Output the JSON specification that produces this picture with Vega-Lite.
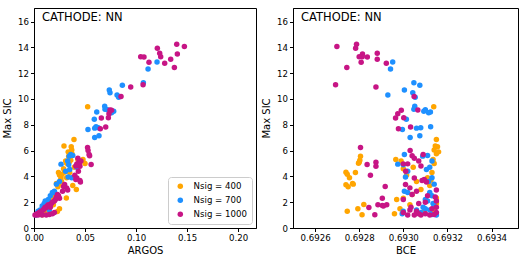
{
"$schema": "https://vega.github.io/schema/vega-lite/v6.json",
"padding": {"left": 2, "top": 7, "right": 0, "bottom": 0},
"background": "white",
"config": {
  "font": "DejaVu Sans",
  "view": {"stroke": "black", "strokeWidth": 1},
  "axis": {"grid": false, "domainColor": "black", "tickColor": "black", "tickSize": 3.5, "labelColor": "black", "titleColor": "black", "labelFontSize": 8.6, "titleFontSize": 10, "titleFontWeight": "normal", "labelPadding": 2, "labelFont": "DejaVu Sans", "titleFont": "DejaVu Sans", "labelFlush": false},
  "axisY": {"titlePadding": 5},
  "axisX": {"titlePadding": 3},
  "title": {"anchor": "start", "frame": "group", "offset": -15, "dx": 8, "fontSize": 11.5, "fontWeight": "normal", "color": "black", "font": "DejaVu Sans", "baseline": "alphabetic"}
},
"datasets": {"pts": [
{"n":400,"a":0.0526,"b":0.693138,"s":9.40},
{"n":400,"a":0.0392,"b":0.693150,"s":6.86},
{"n":400,"a":0.0294,"b":0.693145,"s":6.35},
{"n":400,"a":0.0365,"b":0.693155,"s":6.30},
{"n":400,"a":0.0370,"b":0.693140,"s":6.05},
{"n":400,"a":0.0335,"b":0.693160,"s":5.90},
{"n":400,"a":0.0372,"b":0.693150,"s":5.75},
{"n":400,"a":0.0340,"b":0.692806,"s":5.57},
{"n":400,"a":0.0360,"b":0.692803,"s":5.26},
{"n":400,"a":0.0430,"b":0.693135,"s":5.30},
{"n":400,"a":0.0320,"b":0.692797,"s":5.02},
{"n":400,"a":0.0345,"b":0.692800,"s":5.10},
{"n":400,"a":0.0500,"b":0.693140,"s":5.00},
{"n":400,"a":0.0480,"b":0.692966,"s":5.31},
{"n":400,"a":0.0300,"b":0.692740,"s":4.33},
{"n":400,"a":0.0275,"b":0.692746,"s":4.17},
{"n":400,"a":0.0240,"b":0.692783,"s":4.31},
{"n":400,"a":0.0290,"b":0.693000,"s":4.60},
{"n":400,"a":0.0265,"b":0.692756,"s":3.90},
{"n":400,"a":0.0250,"b":0.693015,"s":4.10},
{"n":400,"a":0.0230,"b":0.692740,"s":3.35},
{"n":400,"a":0.0235,"b":0.692750,"s":3.20},
{"n":400,"a":0.0220,"b":0.692770,"s":3.45},
{"n":400,"a":0.0245,"b":0.692773,"s":3.40},
{"n":400,"a":0.0415,"b":0.693080,"s":2.98},
{"n":400,"a":0.0380,"b":0.693120,"s":3.30},
{"n":400,"a":0.0320,"b":0.693110,"s":3.90},
{"n":400,"a":0.0270,"b":0.693060,"s":3.60},
{"n":400,"a":0.0180,"b":0.693000,"s":2.30},
{"n":400,"a":0.0200,"b":0.692970,"s":2.20},
{"n":400,"a":0.0150,"b":0.692821,"s":1.83},
{"n":400,"a":0.0210,"b":0.693040,"s":2.60},
{"n":400,"a":0.0250,"b":0.692985,"s":1.50},
{"n":400,"a":0.0120,"b":0.692794,"s":1.50},
{"n":400,"a":0.0100,"b":0.692746,"s":1.30},
{"n":400,"a":0.0080,"b":0.692813,"s":1.03},
{"n":400,"a":0.0060,"b":0.692960,"s":1.10},
{"n":400,"a":0.0140,"b":0.693140,"s":1.40},
{"n":400,"a":0.0229,"b":0.693095,"s":1.27},
{"n":400,"a":0.0190,"b":0.693030,"s":1.80},
{"n":400,"a":0.0317,"b":0.693150,"s":2.33},
{"n":400,"a":0.0350,"b":0.693130,"s":4.30},
{"n":400,"a":0.0395,"b":0.693045,"s":4.70},
{"n":400,"a":0.0310,"b":0.692990,"s":5.20},
{"n":400,"a":0.0260,"b":0.693125,"s":3.70},
{"n":400,"a":0.0160,"b":0.693150,"s":1.90},
{"n":700,"a":0.1206,"b":0.692952,"s":12.87},
{"n":700,"a":0.1118,"b":0.692942,"s":12.33},
{"n":700,"a":0.1072,"b":0.693048,"s":11.26},
{"n":700,"a":0.0866,"b":0.693075,"s":11.06},
{"n":700,"a":0.0738,"b":0.693005,"s":10.70},
{"n":700,"a":0.0745,"b":0.693043,"s":10.49},
{"n":700,"a":0.0814,"b":0.692930,"s":10.31},
{"n":700,"a":0.0830,"b":0.693054,"s":10.13},
{"n":700,"a":0.0693,"b":0.693052,"s":9.43},
{"n":700,"a":0.0696,"b":0.693048,"s":9.20},
{"n":700,"a":0.0720,"b":0.693100,"s":9.17},
{"n":700,"a":0.0781,"b":0.693093,"s":9.04},
{"n":700,"a":0.0615,"b":0.693123,"s":8.99},
{"n":700,"a":0.0760,"b":0.693115,"s":8.93},
{"n":700,"a":0.0591,"b":0.693014,"s":8.42},
{"n":700,"a":0.0608,"b":0.693124,"s":7.84},
{"n":700,"a":0.0630,"b":0.693079,"s":7.77},
{"n":700,"a":0.0595,"b":0.693060,"s":7.74},
{"n":700,"a":0.0529,"b":0.692996,"s":7.64},
{"n":700,"a":0.0637,"b":0.693075,"s":7.15},
{"n":700,"a":0.0595,"b":0.693031,"s":7.02},
{"n":700,"a":0.0360,"b":0.693005,"s":5.70},
{"n":700,"a":0.0345,"b":0.693088,"s":5.57},
{"n":700,"a":0.0380,"b":0.693110,"s":5.62},
{"n":700,"a":0.0330,"b":0.693130,"s":5.20},
{"n":700,"a":0.0340,"b":0.693000,"s":4.90},
{"n":700,"a":0.0350,"b":0.693105,"s":4.53},
{"n":700,"a":0.0420,"b":0.693120,"s":4.70},
{"n":700,"a":0.0310,"b":0.693020,"s":4.40},
{"n":700,"a":0.0335,"b":0.693010,"s":3.95},
{"n":700,"a":0.0370,"b":0.693130,"s":3.90},
{"n":700,"a":0.0250,"b":0.693115,"s":3.60},
{"n":700,"a":0.0220,"b":0.693140,"s":3.40},
{"n":700,"a":0.0200,"b":0.693005,"s":2.85},
{"n":700,"a":0.0190,"b":0.693020,"s":2.75},
{"n":700,"a":0.0180,"b":0.693120,"s":2.75},
{"n":700,"a":0.0160,"b":0.693130,"s":2.50},
{"n":700,"a":0.0140,"b":0.693100,"s":2.20},
{"n":700,"a":0.0110,"b":0.693110,"s":2.10},
{"n":700,"a":0.0100,"b":0.693135,"s":1.90},
{"n":700,"a":0.0080,"b":0.693140,"s":1.70},
{"n":700,"a":0.0090,"b":0.693100,"s":1.50},
{"n":700,"a":0.0060,"b":0.693120,"s":1.40},
{"n":700,"a":0.0040,"b":0.693000,"s":1.30},
{"n":700,"a":0.0050,"b":0.693080,"s":1.20},
{"n":700,"a":0.0030,"b":0.692995,"s":1.10},
{"n":700,"a":0.0070,"b":0.693130,"s":1.05},
{"n":700,"a":0.0020,"b":0.693150,"s":1.00},
{"n":700,"a":0.0120,"b":0.693090,"s":1.60},
{"n":700,"a":0.0150,"b":0.693060,"s":1.40},
{"n":700,"a":0.0265,"b":0.692975,"s":4.95},
{"n":1000,"a":0.1399,"b":0.692788,"s":14.24},
{"n":1000,"a":0.1474,"b":0.692699,"s":14.06},
{"n":1000,"a":0.1209,"b":0.692784,"s":13.93},
{"n":1000,"a":0.1232,"b":0.692882,"s":13.54},
{"n":1000,"a":0.1405,"b":0.692815,"s":13.49},
{"n":1000,"a":0.1046,"b":0.692814,"s":13.28},
{"n":1000,"a":0.1078,"b":0.692837,"s":13.26},
{"n":1000,"a":0.1242,"b":0.692800,"s":13.28},
{"n":1000,"a":0.1340,"b":0.692882,"s":13.08},
{"n":1000,"a":0.1127,"b":0.692809,"s":12.85},
{"n":1000,"a":0.1281,"b":0.692923,"s":12.77},
{"n":1000,"a":0.1376,"b":0.692744,"s":12.43},
{"n":1000,"a":0.1069,"b":0.692693,"s":11.11},
{"n":1000,"a":0.0948,"b":0.692876,"s":10.93},
{"n":1000,"a":0.0853,"b":0.693049,"s":10.20},
{"n":1000,"a":0.0745,"b":0.693066,"s":9.14},
{"n":1000,"a":0.0760,"b":0.692991,"s":9.12},
{"n":1000,"a":0.0735,"b":0.692975,"s":8.85},
{"n":1000,"a":0.0660,"b":0.692965,"s":8.52},
{"n":1000,"a":0.0729,"b":0.693002,"s":8.54},
{"n":1000,"a":0.0703,"b":0.693033,"s":7.82},
{"n":1000,"a":0.0650,"b":0.692978,"s":7.69},
{"n":1000,"a":0.0525,"b":0.692806,"s":6.24},
{"n":1000,"a":0.0530,"b":0.693031,"s":6.00},
{"n":1000,"a":0.0540,"b":0.693090,"s":5.70},
{"n":1000,"a":0.0545,"b":0.693040,"s":5.60},
{"n":1000,"a":0.0560,"b":0.692836,"s":4.92},
{"n":1000,"a":0.0440,"b":0.692876,"s":5.10},
{"n":1000,"a":0.0450,"b":0.692876,"s":4.79},
{"n":1000,"a":0.0430,"b":0.693050,"s":5.40},
{"n":1000,"a":0.0460,"b":0.693070,"s":5.20},
{"n":1000,"a":0.0420,"b":0.693000,"s":4.97},
{"n":1000,"a":0.0445,"b":0.693020,"s":4.97},
{"n":1000,"a":0.0410,"b":0.693080,"s":4.80},
{"n":1000,"a":0.0435,"b":0.693011,"s":4.40},
{"n":1000,"a":0.0400,"b":0.692851,"s":4.09},
{"n":1000,"a":0.0420,"b":0.693050,"s":3.88},
{"n":1000,"a":0.0450,"b":0.693085,"s":3.68},
{"n":1000,"a":0.0455,"b":0.693105,"s":3.57},
{"n":1000,"a":0.0410,"b":0.693095,"s":3.76},
{"n":1000,"a":0.0290,"b":0.692918,"s":3.22},
{"n":1000,"a":0.0300,"b":0.693010,"s":3.37},
{"n":1000,"a":0.0320,"b":0.693030,"s":3.11},
{"n":1000,"a":0.0330,"b":0.693150,"s":2.95},
{"n":1000,"a":0.0280,"b":0.693060,"s":2.85},
{"n":1000,"a":0.0230,"b":0.693040,"s":2.60},
{"n":1000,"a":0.0250,"b":0.692905,"s":2.30},
{"n":1000,"a":0.0210,"b":0.693000,"s":2.20},
{"n":1000,"a":0.0200,"b":0.693150,"s":2.10},
{"n":1000,"a":0.0180,"b":0.693100,"s":2.00},
{"n":1000,"a":0.0170,"b":0.693070,"s":1.90},
{"n":1000,"a":0.0160,"b":0.692885,"s":1.80},
{"n":1000,"a":0.0150,"b":0.692905,"s":1.75},
{"n":1000,"a":0.0140,"b":0.692925,"s":1.80},
{"n":1000,"a":0.0130,"b":0.692910,"s":1.70},
{"n":1000,"a":0.0120,"b":0.692844,"s":1.58},
{"n":1000,"a":0.0110,"b":0.693150,"s":1.60},
{"n":1000,"a":0.0100,"b":0.693130,"s":1.50},
{"n":1000,"a":0.0090,"b":0.693030,"s":1.40},
{"n":1000,"a":0.0070,"b":0.693060,"s":1.30},
{"n":1000,"a":0.0050,"b":0.693150,"s":1.20},
{"n":1000,"a":0.0030,"b":0.693100,"s":1.10},
{"n":1000,"a":0.0020,"b":0.692871,"s":1.03},
{"n":1000,"a":0.0010,"b":0.693020,"s":1.00},
{"n":1000,"a":0.0040,"b":0.693050,"s":1.00},
{"n":1000,"a":0.0080,"b":0.693080,"s":1.00},
{"n":1000,"a":0.0120,"b":0.693120,"s":1.00},
{"n":1000,"a":0.0150,"b":0.693140,"s":1.05},
{"n":1000,"a":0.0180,"b":0.693070,"s":1.10},
{"n":1000,"a":0.0200,"b":0.693000,"s":1.20},
{"n":1000,"a":0.0220,"b":0.693145,"s":2.40},
{"n":1000,"a":0.0240,"b":0.693110,"s":2.50},
{"n":1000,"a":0.0160,"b":0.693035,"s":1.60}
]},
"spacing": 4,
"resolve": {"legend": {"color": "independent"}},
"hconcat": [
{
  "width": 222, "height": 220,
  "title": {"text": "CATHODE: NN"},
  "data": {"name": "pts"},
  "mark": {"type": "circle", "size": 30, "opacity": 1},
  "encoding": {
    "x": {"field": "a", "type": "quantitative", "title": "ARGOS", "scale": {"domain": [0, 0.2176], "nice": false, "zero": false}, "axis": {"values": [0, 0.05, 0.1, 0.15, 0.2], "format": ".2f"}},
    "y": {"field": "s", "type": "quantitative", "title": "Max SIC", "scale": {"domain": [0, 17.05], "nice": false}, "axis": {"values": [0, 2, 4, 6, 8, 10, 12, 14, 16], "format": "d"}},
    "color": {"field": "n", "type": "nominal", "scale": {"domain": [400, 700, 1000], "range": ["#FFA500", "#1E90FF", "#C71585"]},
      "legend": {"title": null, "orient": "bottom-right", "offset": 4, "padding": 5, "fillColor": "white", "strokeColor": "#cccccc", "cornerRadius": 3, "symbolType": "circle", "symbolSize": 30, "symbolOpacity": 1, "labelFontSize": 8.6, "labelColor": "black", "rowPadding": 5, "labelOffset": 9, "symbolOffset": 3, "labelExpr": "'Nsig = ' + datum.label"}}
  }
},
{
  "width": 225, "height": 220,
  "title": {"text": "CATHODE: NN"},
  "data": {"name": "pts"},
  "mark": {"type": "circle", "size": 30, "opacity": 1},
  "encoding": {
    "x": {"field": "b", "type": "quantitative", "title": "BCE", "scale": {"domain": [0.6925, 0.69352], "nice": false, "zero": false}, "axis": {"values": [0.6926, 0.6928, 0.693, 0.6932, 0.6934], "format": ".4f"}},
    "y": {"field": "s", "type": "quantitative", "title": "Max SIC", "scale": {"domain": [0, 17.05], "nice": false}, "axis": {"values": [0, 2, 4, 6, 8, 10, 12, 14, 16], "format": "d"}},
    "color": {"field": "n", "type": "nominal", "scale": {"domain": [400, 700, 1000], "range": ["#FFA500", "#1E90FF", "#C71585"]}, "legend": null}
  }
}
]
}
